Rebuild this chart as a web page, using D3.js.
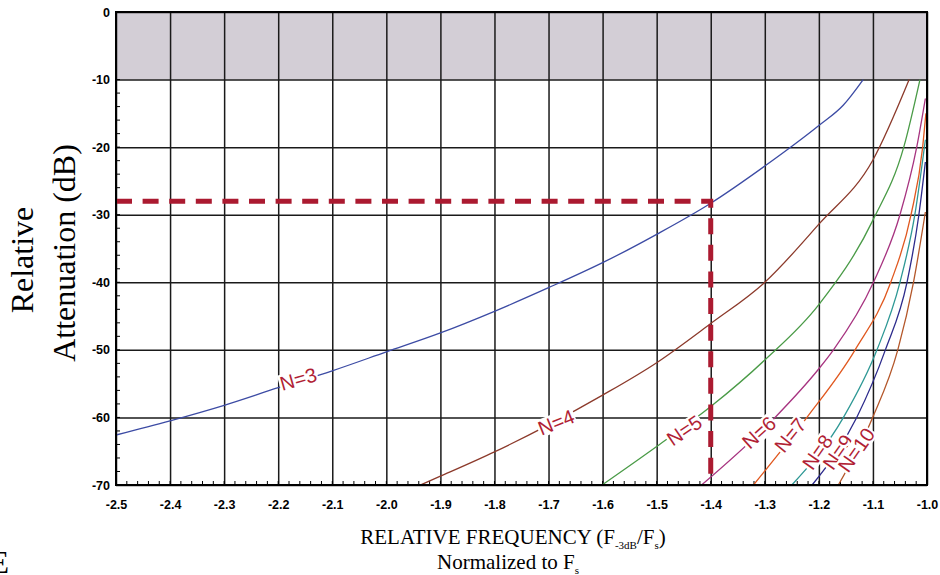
<!DOCTYPE html>
<html>
<head>
<meta charset="utf-8">
<script src="https://cdn.jsdelivr.net/npm/d3@7"></script>
<style>
  body { margin: 0; background: #fff; }
  svg { display: block; }
</style>
</head>
<body>
<svg id="chart" width="940" height="575"></svg>
<script>
// ticks
const xTickValues = [-2.5, -2.4, -2.3, -2.2, -2.1, -2.0, -1.9, -1.8, -1.7, -1.6, -1.5, -1.4, -1.3, -1.2, -1.1, -1.0]
const yTickValues = [0, -10, -20, -30, -40, -50, -60, -70]

// attenuation curves: [relative frequency, dB]
const n3 = [[-2.5, -62.6], [-2.4, -60.5], [-2.3, -58.2], [-2.2, -55.6], [-2.1, -53.1], [-2.0, -50.3],
            [-1.9, -47.5], [-1.8, -44.3], [-1.7, -40.8], [-1.6, -37.1], [-1.5, -32.9], [-1.4, -28.3],
            [-1.3, -22.8], [-1.2, -16.8], [-1.155, -13.8], [-1.118, -10.0]]
const n4 = [[-1.937, -70], [-1.9, -68.7], [-1.8, -65.1], [-1.7, -61.1], [-1.6, -56.7], [-1.5, -51.9],
            [-1.4, -46.1], [-1.3, -40.0], [-1.2, -31.4], [-1.1, -21.9], [-1.033, -10]]
const n5 = [[-1.601, -70], [-1.5, -64.3], [-1.4, -58.4], [-1.3, -51.5], [-1.2, -43.3], [-1.1, -30.8],
            [-1.043, -20], [-1.013, -10]]
const n6 = [[-1.417, -70], [-1.281, -60], [-1.2, -52.8], [-1.173, -50], [-1.099, -40], [-1.05, -30],
            [-1.019, -20], [-1.003, -12.8]]
const n7 = [[-1.321, -70], [-1.222, -60], [-1.133, -50], [-1.067, -40], [-1.0295, -30], [-1.008, -20],
            [-1.002, -15.0]]
const n8 = [[-1.250, -70], [-1.1545, -60], [-1.0925, -50], [-1.050, -40], [-1.0225, -30], [-1.003, -18.9]]
const n9 = [[-1.2125, -70], [-1.130, -60], [-1.077, -50], [-1.037, -40], [-1.015, -30], [-1.003, -22.2]]
const n10 = [[-1.164, -70], [-1.1005, -60], [-1.054, -50], [-1.025, -40], [-1.003, -29.6]]

const seriesNames = ["N=3", "N=4", "N=5", "N=6", "N=7", "N=8", "N=9", "N=10"]
const seriesData = [n3, n4, n5, n6, n7, n8, n9, n10]
// where each curve label sits, in data units
const labelAt = [[-2.163, -54.3], [-1.686, -60.7], [-1.449, -61.9], [-1.311, -62.2],
                 [-1.253, -62.6], [-1.203, -65.1], [-1.165, -65.1], [-1.131, -64.8]]

// the -28 dB / -1.4 reading
const markerFreq = -1.4
const markerDb = -28
const passBandDb = -10

const colors = ["#3c4ba4", "#8c3a2b", "#4a9b47", "#a73480", "#e0581f", "#2e9895", "#2d2b8c", "#b4572a"]
const labelAngles = [-16, -22, -34, -42, -51, -55, -55, -55]

const margin = {top: 12, left: 116}
const width = 811, height = 473

const svg = d3.select("#chart")
const g = svg.append("g").attr("transform", `translate(${margin.left},${margin.top})`)

const x = d3.scaleLinear().domain([-2.5, -1.0]).range([0, width])
const y = d3.scaleLinear().domain([0, -70]).range([0, height])

// shaded pass band
g.append("rect")
  .attr("x", 0).attr("y", y(0))
  .attr("width", width).attr("height", y(passBandDb) - y(0))
  .attr("fill", "#d3ced6")

// grid
g.append("g").attr("class", "grid-x")
  .attr("transform", `translate(0,${height})`)
  .call(d3.axisBottom(x).tickValues(xTickValues).tickSize(-height).tickFormat(""))
  .call(s => s.select(".domain").remove())
  .call(s => s.selectAll("line").attr("stroke", "#1a1a1a").attr("stroke-width", 1.5))
g.append("g").attr("class", "grid-y")
  .call(d3.axisLeft(y).tickValues(yTickValues).tickSize(-width).tickFormat(""))
  .call(s => s.select(".domain").remove())
  .call(s => s.selectAll("line").attr("stroke", "#1a1a1a").attr("stroke-width", 1.5))

// minor ticks (inward)
const minorX = d3.range(0, 76).map(i => -2.5 + i * 0.02)
const minorY = d3.range(0, 31).map(i => -10 - i * 2)
g.append("g").selectAll("line").data(minorX).join("line")
  .attr("x1", d => x(d)).attr("x2", d => x(d))
  .attr("y1", height).attr("y2", height - 4)
  .attr("stroke", "#000").attr("stroke-width", 1)
g.append("g").selectAll("line").data(minorY).join("line")
  .attr("x1", 0).attr("x2", 4)
  .attr("y1", d => y(d)).attr("y2", d => y(d))
  .attr("stroke", "#000").attr("stroke-width", 1)

// tick labels
g.append("g")
  .attr("transform", `translate(0,${height})`)
  .call(d3.axisBottom(x).tickValues(xTickValues).tickSize(0).tickPadding(15).tickFormat(d => d.toFixed(1)))
  .call(s => s.select(".domain").remove())
  .call(s => s.selectAll("text")
    .attr("font-family", "Liberation Sans, Arial, sans-serif")
    .attr("font-weight", "bold").attr("font-size", 12.5).attr("fill", "#000"))
g.append("g")
  .call(d3.axisLeft(y).tickValues(yTickValues).tickSize(0).tickPadding(6).tickFormat(d => String(d)))
  .call(s => s.select(".domain").remove())
  .call(s => s.selectAll("text")
    .attr("font-family", "Liberation Sans, Arial, sans-serif")
    .attr("font-weight", "bold").attr("font-size", 12.5).attr("fill", "#000"))

// curves
const line = d3.line()
  .x(d => x(d[0]))
  .y(d => y(d[1]))
  .curve(d3.curveMonotoneX)

g.append("g").selectAll("path").data(seriesData).join("path")
  .attr("d", line)
  .attr("fill", "none")
  .attr("stroke", (_, i) => colors[i])
  .attr("stroke-width", 1.3)

// curve labels on white boxes
seriesNames.forEach((name, i) => {
  const lg = g.append("g")
    .attr("transform", `translate(${x(labelAt[i][0])},${y(labelAt[i][1])}) rotate(${labelAngles[i]})`)
  const t = lg.append("text")
    .attr("text-anchor", "middle")
    .attr("dy", "0.36em")
    .attr("font-family", "Liberation Sans, Arial, sans-serif")
    .attr("font-size", 20)
    .attr("fill", "#b11f35")
    .text(name)
  const bb = t.node().getBBox()
  lg.insert("rect", "text")
    .attr("x", bb.x - 1).attr("y", bb.y + 2)
    .attr("width", bb.width + 2).attr("height", bb.height - 4)
    .attr("fill", "#fff")
})

// dashed reading line
g.append("path")
  .attr("d", d3.line()([[x(-2.5), y(markerDb)], [x(markerFreq), y(markerDb)], [x(markerFreq), y(-70)]]))
  .attr("fill", "none")
  .attr("stroke", "#ab1a30")
  .attr("stroke-width", 5)
  .attr("stroke-dasharray", "16,10.6")

// frame
g.append("rect")
  .attr("width", width).attr("height", height)
  .attr("fill", "none").attr("stroke", "#000").attr("stroke-width", 2)

// axis titles
const serif = "Liberation Serif, Times New Roman, serif"
svg.append("text")
  .attr("transform", "translate(33,260) rotate(-90)")
  .attr("text-anchor", "middle")
  .attr("font-family", serif).attr("font-size", 32)
  .text("Relative")
svg.append("text")
  .attr("transform", "translate(75,253) rotate(-90)")
  .attr("text-anchor", "middle")
  .attr("font-family", serif).attr("font-size", 32)
  .text("Attenuation (dB)")

const xt = svg.append("text")
  .attr("x", 513).attr("y", 544)
  .attr("text-anchor", "middle")
  .attr("font-family", serif).attr("font-size", 21)
xt.append("tspan").text("RELATIVE FREQUENCY (F")
xt.append("tspan").attr("font-size", 11).attr("dy", 5).text("-3dB")
xt.append("tspan").attr("dy", -5).text("/F")
xt.append("tspan").attr("font-size", 11).attr("dy", 5).text("s")
xt.append("tspan").attr("dy", -5).text(")")

const xt2 = svg.append("text")
  .attr("x", 508).attr("y", 569)
  .attr("text-anchor", "middle")
  .attr("font-family", serif).attr("font-size", 21)
xt2.append("tspan").text("Normalized to F")
xt2.append("tspan").attr("font-size", 11).attr("dy", 5).text("s")

// cut-off letter at the page edge
svg.append("text")
  .attr("x", 9).attr("y", 573)
  .attr("text-anchor", "end")
  .attr("font-family", serif).attr("font-size", 32)
  .text("E")
</script>
</body>
</html>
